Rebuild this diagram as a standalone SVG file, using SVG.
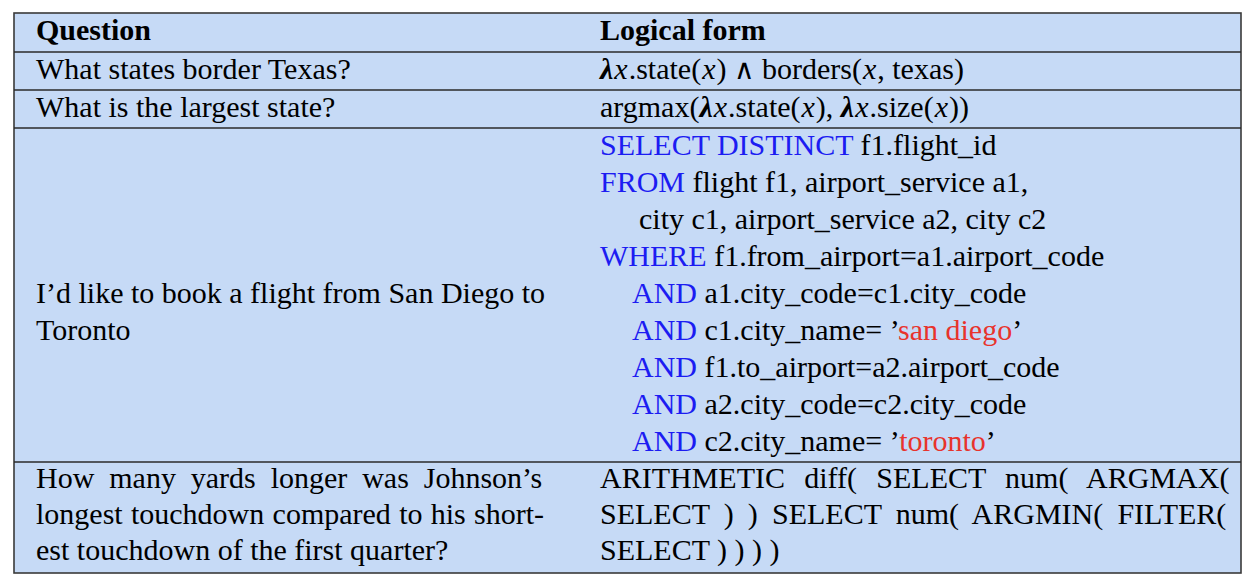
<svg xmlns="http://www.w3.org/2000/svg" width="1254" height="586" viewBox="0 0 1254 586">
<style>
  text { font-family: 'Liberation Serif', serif; font-size: 30px; fill: #000; }
  .b { font-weight: bold; }
  .kw { fill: #1c1cf2; }
  .str { fill: #e8332c; }
  .it { font-style: italic; }
  .lam { font-style: italic; font-weight: bold; }
  .op { font-family: 'DejaVu Serif', serif; font-size: 28px; }
  .rule { stroke: #2a2a2a; stroke-width: 1.4; }
</style>
<rect width="1254" height="586" fill="#ffffff"/>
<g id="table-frame">
  <rect x="14" y="13" width="1227" height="560" fill="#c6daf6" stroke="#3a3a3a" stroke-width="1.6"/>
</g>
<g id="row-lines">
  <line class="rule" x1="14" y1="52" x2="1241" y2="52"/>
  <line class="rule" x1="14" y1="90" x2="1241" y2="90"/>
  <line class="rule" x1="14" y1="128" x2="1241" y2="128"/>
  <line class="rule" x1="14" y1="462" x2="1241" y2="462"/>
</g>
<g id="content" font-family="Liberation Serif, serif">
<g id="header">
  <text class="b" x="36" y="40">Question</text>
  <text class="b" x="600" y="40">Logical form</text>
</g>
<g id="row-texas">
  <text x="36" y="79">What states border Texas?</text>
  <text x="600" y="79"><tspan class="lam">λ</tspan><tspan class="it" dx="1">x</tspan><tspan dx="1">.state(</tspan><tspan class="it" dx="1">x</tspan><tspan dx="1">) </tspan><tspan class="op">∧</tspan> borders(<tspan class="it" dx="1">x</tspan><tspan dx="1">, texas)</tspan></text>
</g>
<g id="row-largest">
  <text x="36" y="117">What is the largest state?</text>
  <text x="600" y="117">argmax(<tspan class="lam">λ</tspan><tspan class="it" dx="1">x</tspan><tspan dx="1">.state(</tspan><tspan class="it" dx="1">x</tspan><tspan dx="1">), </tspan><tspan class="lam">λ</tspan><tspan class="it" dx="1">x</tspan><tspan dx="1">.size(</tspan><tspan class="it" dx="1">x</tspan><tspan dx="1">))</tspan></text>
</g>
<g id="row-flight">
  <text x="36" y="303">I’d like to book a flight from San Diego to</text>
  <text x="36" y="340">Toronto</text>
  <text x="600" y="155"><tspan class="kw">SELECT DISTINCT</tspan> f1.flight_id</text>
  <text x="600" y="192"><tspan class="kw">FROM</tspan> flight f1, airport_service a1,</text>
  <text x="639" y="229">city c1, airport_service a2, city c2</text>
  <text x="600" y="266"><tspan class="kw">WHERE</tspan> f1.from_airport=a1.airport_code</text>
  <text x="632" y="303"><tspan class="kw">AND</tspan> a1.city_code=c1.city_code</text>
  <text x="632" y="340"><tspan class="kw">AND</tspan> c1.city_name= ’<tspan class="str">san diego</tspan>’</text>
  <text x="632" y="377"><tspan class="kw">AND</tspan> f1.to_airport=a2.airport_code</text>
  <text x="632" y="414"><tspan class="kw">AND</tspan> a2.city_code=c2.city_code</text>
  <text x="632" y="451"><tspan class="kw">AND</tspan> c2.city_name= ’<tspan class="str">toronto</tspan>’</text>
</g>
<g id="row-johnson">
  <text x="36" y="488" word-spacing="7.4">How many yards longer was Johnson’s</text>
  <text x="36" y="524" word-spacing="0.8">longest touchdown compared to his short-</text>
  <text x="36" y="560">est touchdown of the first quarter?</text>
  <text x="600" y="488" word-spacing="11.8">ARITHMETIC diff( SELECT num( ARGMAX(</text>
  <text x="600" y="524" word-spacing="6.7">SELECT ) ) SELECT num( ARGMIN( FILTER(</text>
  <text x="600" y="560">SELECT ) ) ) )</text>
</g>
</g>
</svg>
